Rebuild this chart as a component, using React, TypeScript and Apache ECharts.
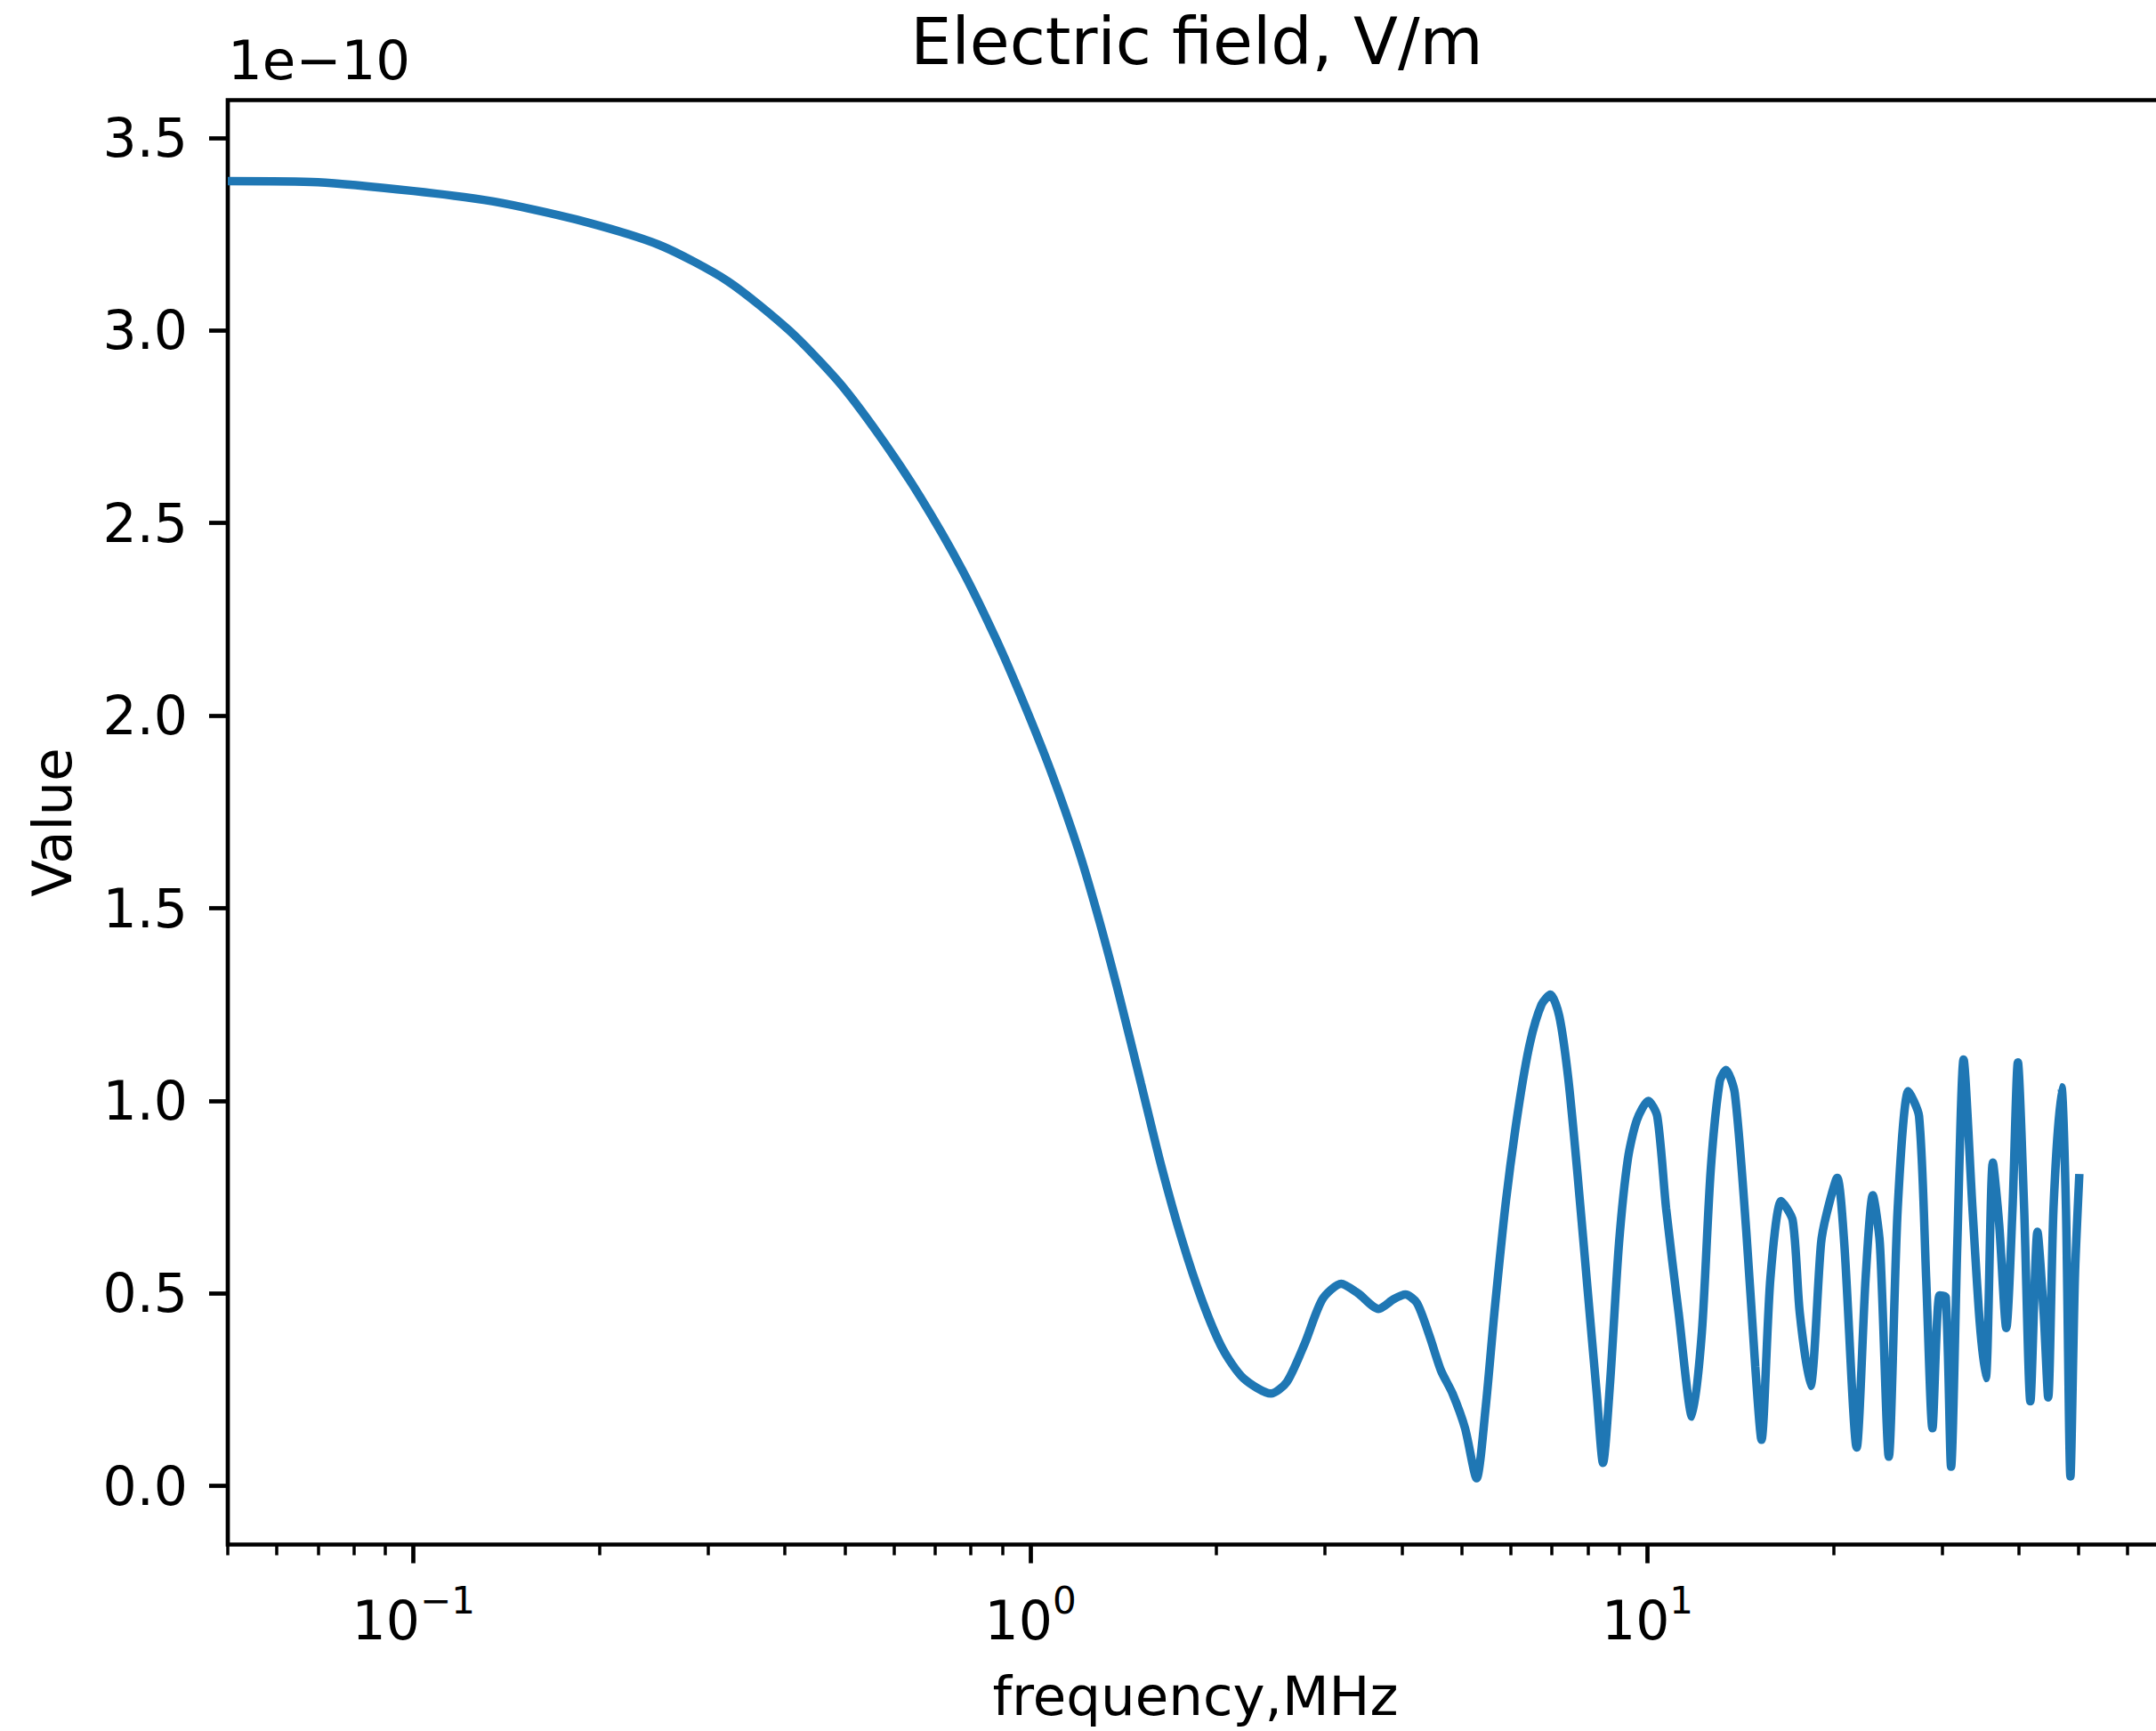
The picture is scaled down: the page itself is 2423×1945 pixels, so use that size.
import React, { useEffect, useRef } from "react";
import * as echarts from "echarts";

const TITLE = "Electric field, V/m";
const X_NAME = "frequency,MHz";
const Y_NAME = "Value";
const OFFSET_TEXT = "1e\u221210";

// frequency in MHz
const freqMHz = [
  0.05, 0.07, 0.10, 0.1348, 0.1836, 0.2502, 0.3231, 0.4064, 0.4878, 0.5684,
  0.6624, 0.7741, 0.8786, 0.9738, 1.0795, 1.1966, 1.2915, 1.394, 1.5101, 1.6297,
  1.7589, 1.8985, 2.0497, 2.2128, 2.4533, 2.603, 2.783, 2.973, 3.189, 3.396,
  3.666, 3.879, 4.052, 4.230, 4.432, 4.626, 4.831, 5.061, 5.284, 5.463,
  5.647, 5.896, 6.177, 6.449, 6.734, 6.961, 7.195, 7.438, 7.691, 8.057,
  8.274, 8.47, 8.698, 8.991, 9.295, 9.61, 10.03, 10.37, 10.72, 11.23,
  11.81, 12.25, 12.66, 13.09, 13.40, 13.85, 14.46, 14.95, 15.30, 15.82,
  16.47, 17.19, 17.65, 18.37, 19.11, 19.50, 20.30, 20.84, 21.83, 22.57,
  23.18, 23.80, 24.61, 25.44, 26.47, 27.55, 28.29, 28.96, 29.74, 30.44,
  31.05, 31.78, 32.53, 33.63, 34.53, 35.34, 36.29, 37.15, 38.15, 39.05,
  39.84, 40.78, 41.74, 42.86, 43.86, 44.61, 45.50, 46.88, 47.67, 48.47,
  49.28, 50.11,
];

// electric field, in units of 1e-10 V/m
const fieldE10 = [
  3.388, 3.385, 3.362, 3.335, 3.288, 3.222, 3.128, 3.000, 2.868, 2.728,
  2.568, 2.380, 2.200, 2.035, 1.855, 1.650, 1.470, 1.270, 1.045, 0.830,
  0.640, 0.480, 0.355, 0.280, 0.240, 0.27, 0.37, 0.485, 0.525, 0.50,
  0.46, 0.485, 0.497, 0.475, 0.39, 0.30, 0.24, 0.15, 0.02, 0.20,
  0.45, 0.74, 0.98, 1.15, 1.25, 1.276, 1.22, 1.06, 0.82, 0.45,
  0.24, 0.06, 0.27, 0.63, 0.85, 0.95, 1.00, 0.96, 0.72, 0.45,
  0.18, 0.40, 0.82, 1.05, 1.08, 1.02, 0.66, 0.31, 0.12, 0.54,
  0.74, 0.69, 0.45, 0.26, 0.63, 0.705, 0.80, 0.63, 0.10, 0.54,
  0.755, 0.63, 0.076, 0.72, 1.025, 0.96, 0.54, 0.15, 0.495, 0.49,
  0.05, 0.63, 1.107, 0.72, 0.43, 0.28, 0.84, 0.68, 0.41, 0.72,
  1.10, 0.72, 0.22, 0.66, 0.45, 0.23, 0.72, 1.035, 0.72, 0.025,
  0.54, 0.81,
];

const yTicks = [0, 0.5, 1.0, 1.5, 2.0, 2.5, 3.0, 3.5];
const xMajorTicks = [0.1, 1, 10];
const xMinorTicks = [
  0.05, 0.06, 0.07, 0.08, 0.09,
  0.2, 0.3, 0.4, 0.5, 0.6, 0.7, 0.8, 0.9,
  2, 3, 4, 5, 6, 7, 8, 9,
  20, 30, 40, 50, 60,
];

const X_MIN = 0.05;
const X_MAX = 68.5;
const Y_MIN = -0.152;
const Y_MAX = 3.598;

const FONT = "DejaVu Sans";
const FS = 60;
const AXW = 4.7;

function buildOption() {
  const lmin = Math.log10(X_MIN);
  const lmax = Math.log10(X_MAX);
  const data = freqMHz.map((f, i) => [f, fieldE10[i]]);
  const expLabel = (v: number) => {
    const e = Math.round(v);
    return `{b|10}{s|${e < 0 ? "\u2212" : ""}${Math.abs(e)}}`;
  };
  return {
    animation: false,
    backgroundColor: "#ffffff",
    title: {
      text: TITLE,
      left: 1345,
      top: 46,
      padding: 0,
      textAlign: "center",
      textVerticalAlign: "middle",
      textStyle: { fontFamily: FONT, fontSize: 73, fontWeight: "normal", color: "#000" },
    },
    graphic: [
      {
        type: "text",
        x: 256,
        y: 67,
        style: {
          text: OFFSET_TEXT,
          font: `61px "${FONT}"`,
          fill: "#000",
          verticalAlign: "middle",
          textVerticalAlign: "middle",
        },
      },
    ],
    grid: {
      left: 256,
      top: 112.5,
      width: 2175,
      height: 1623,
      show: true,
      borderColor: "#000",
      borderWidth: AXW,
      backgroundColor: "transparent",
      containLabel: false,
      outerBoundsMode: "none",
    },
    xAxis: [
      {
        type: "log",
        logBase: 10,
        min: X_MIN,
        max: X_MAX,
        show: false,
        splitLine: { show: false },
        axisLine: { onZero: false },
      },
      {
        type: "value",
        min: lmin,
        max: lmax,
        position: "bottom",
        axisLine: { show: false, onZero: false },
        splitLine: { show: false },
        axisTick: {
          show: true,
          customValues: xMajorTicks.map((v) => Math.log10(v)),
          length: 21,
          lineStyle: { color: "#000", width: AXW },
        },
        axisLabel: {
          show: true,
          customValues: xMajorTicks.map((v) => Math.log10(v)),
          margin: 42,
          formatter: expLabel,
          rich: {
            b: { fontFamily: FONT, fontSize: FS, color: "#000", padding: [13, 0, 0, 0] },
            s: { fontFamily: FONT, fontSize: 42, color: "#000", verticalAlign: "top" },
          },
        },
        name: X_NAME,
        nameLocation: "middle",
        nameGap: 139,
        nameTextStyle: { fontFamily: FONT, fontSize: 61, color: "#000" },
      },
      {
        type: "value",
        min: lmin,
        max: lmax,
        position: "bottom",
        axisLine: { show: false, onZero: false },
        splitLine: { show: false },
        axisTick: {
          show: true,
          customValues: xMinorTicks.map((v) => Math.log10(v)),
          length: 12,
          lineStyle: { color: "#000", width: 3.5 },
        },
        axisLabel: { show: false },
      },
    ],
    yAxis: [
      {
        type: "value",
        min: Y_MIN,
        max: Y_MAX,
        axisLine: { show: false, onZero: false },
        splitLine: { show: false },
        axisTick: {
          show: true,
          customValues: yTicks,
          length: 21,
          lineStyle: { color: "#000", width: AXW },
        },
        axisLabel: {
          show: true,
          customValues: yTicks,
          margin: 45,
          formatter: (v: number) => v.toFixed(1),
          fontFamily: FONT,
          fontSize: FS,
          color: "#000",
        },
        name: Y_NAME,
        nameLocation: "middle",
        nameRotate: 90,
        nameGap: 167,
        nameTextStyle: { fontFamily: FONT, fontSize: 61, color: "#000" },
      },
    ],
    series: [
      {
        type: "line",
        xAxisIndex: 0,
        yAxisIndex: 0,
        data,
        showSymbol: false,
        symbol: "none",
        smooth: 0.25,
        clip: true,
        lineStyle: { color: "#1f77b4", width: 9.5 },
      },
    ],
  };
}

export default function App() {
  const ref = useRef<HTMLDivElement>(null);
  useEffect(() => {
    if (!ref.current) return;
    const chart = echarts.init(ref.current, null, { renderer: "svg" });
    chart.setOption(buildOption() as any);
    return () => chart.dispose();
  }, []);
  return (
    <div
      style={{
        position: "fixed",
        left: 0,
        top: 0,
        width: 2423,
        height: 1945,
        overflow: "hidden",
        background: "#fff",
      }}
    >
      <div ref={ref} style={{ width: 2500, height: 2000 }} />
    </div>
  );
}
